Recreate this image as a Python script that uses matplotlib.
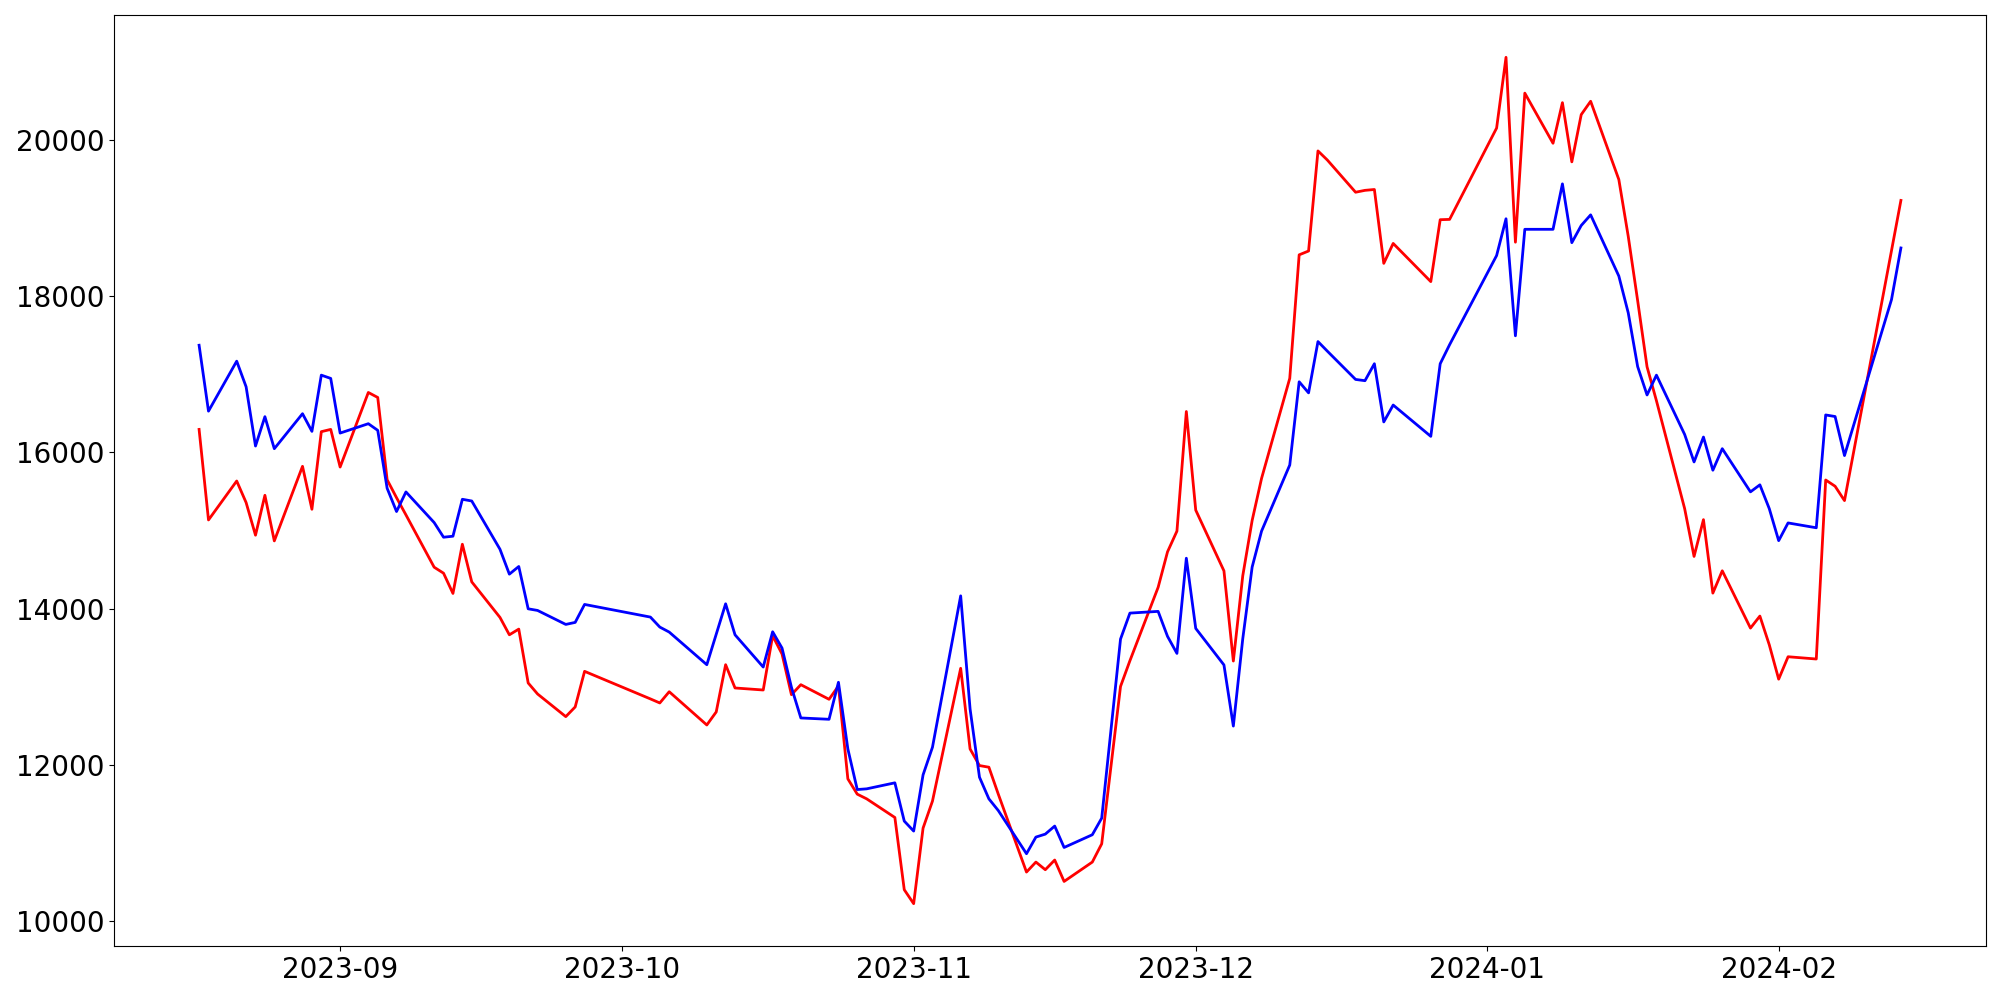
import matplotlib
matplotlib.use("Agg")
import matplotlib.pyplot as plt
import pandas as pd

# trading days shown on the chart (holes where the line has no vertex)
dates = [
    "2023-08-17", "2023-08-18", "2023-08-21", "2023-08-22", "2023-08-23", "2023-08-24",
    "2023-08-25", "2023-08-28", "2023-08-29", "2023-08-30", "2023-08-31",
    "2023-09-01", "2023-09-04", "2023-09-05", "2023-09-06", "2023-09-07", "2023-09-08",
    "2023-09-11", "2023-09-12", "2023-09-13", "2023-09-14", "2023-09-15", "2023-09-18",
    "2023-09-19", "2023-09-20", "2023-09-21", "2023-09-22", "2023-09-25", "2023-09-26",
    "2023-09-27",
    "2023-10-04", "2023-10-05", "2023-10-06", "2023-10-10", "2023-10-11", "2023-10-12",
    "2023-10-13", "2023-10-16", "2023-10-17", "2023-10-18", "2023-10-19", "2023-10-20",
    "2023-10-23", "2023-10-24", "2023-10-25", "2023-10-26", "2023-10-27", "2023-10-30",
    "2023-10-31",
    "2023-11-01", "2023-11-02", "2023-11-03", "2023-11-06", "2023-11-07", "2023-11-08",
    "2023-11-09", "2023-11-10", "2023-11-13", "2023-11-14", "2023-11-15", "2023-11-16",
    "2023-11-17", "2023-11-20", "2023-11-21", "2023-11-23", "2023-11-24", "2023-11-27",
    "2023-11-28", "2023-11-29", "2023-11-30",
    "2023-12-01", "2023-12-04", "2023-12-05", "2023-12-06", "2023-12-07", "2023-12-08",
    "2023-12-11", "2023-12-12", "2023-12-13", "2023-12-14", "2023-12-15", "2023-12-18",
    "2023-12-19", "2023-12-20", "2023-12-21", "2023-12-22", "2023-12-26", "2023-12-27",
    "2023-12-28",
    "2024-01-02", "2024-01-03", "2024-01-04", "2024-01-05", "2024-01-08", "2024-01-09",
    "2024-01-10", "2024-01-11", "2024-01-12", "2024-01-15", "2024-01-16", "2024-01-17",
    "2024-01-18", "2024-01-19", "2024-01-22", "2024-01-23", "2024-01-24", "2024-01-25",
    "2024-01-26", "2024-01-29", "2024-01-30", "2024-01-31",
    "2024-02-01", "2024-02-02", "2024-02-05", "2024-02-06", "2024-02-07", "2024-02-08",
    "2024-02-13", "2024-02-14",
]

red_values = [
    16295, 15135, 15634, 15358, 14940, 15451, 14867, 15822, 15272, 16266, 16295,
    15813, 16768, 16704, 15650, 15420, 15200, 14530, 14453, 14194, 14824, 14342, 13887,
    13664, 13737, 13047, 12906, 12616, 12740, 13196,
    12843, 12791, 12935, 12509, 12676, 13281, 12983, 12957, 13652, 13418, 12897, 13025,
    12838, 13008, 11819, 11623, 11563, 11324, 10399,
    10220, 11188, 11534, 13235, 12202, 11989, 11968, 11623, 10625, 10753, 10655, 10779,
    10505, 10753, 10987, 13002, 13332, 14272, 14727, 14992, 16524,
    15261, 14483, 13328, 14419, 15129, 15667, 16949, 18531, 18580, 19862, 19745, 19333,
    19357, 19368, 18422, 18677, 18188, 18981, 18985,
    20155, 21061, 18693, 20602, 19960, 20480, 19722, 20327, 20498, 19495, 18768, 17945,
    17097, 16662, 15280, 14668, 15139, 14198, 14484, 13750, 13904, 13536,
    13096, 13383, 13354, 15647, 15567, 15383, 18585, 19228,
]

blue_values = [
    17373, 16529, 17169, 16841, 16082, 16458, 16048, 16496, 16270, 16990, 16948,
    16248, 16368, 16283, 15541, 15243, 15494, 15102, 14914, 14927, 15400, 15378, 14760,
    14441, 14539, 13997, 13976, 13797, 13823, 14053,
    13891, 13763, 13699, 13281, 13671, 14061, 13664, 13251, 13703, 13494, 12992, 12599,
    12582, 13056, 12202, 11682, 11691, 11768, 11278,
    11150, 11870, 12224, 14163, 12714, 11840, 11563, 11413, 10860, 11073, 11111, 11214,
    10940, 11103, 11316, 13609, 13942, 13964, 13644, 13426, 14645,
    13746, 13278, 12495, 13611, 14532, 14992, 15839, 16905, 16763, 17420, 17297, 16935,
    16919, 17136, 16391, 16607, 16206, 17136, 17380,
    18522, 18993, 17494, 18858, 18858, 19440, 18687, 18907, 19043, 18259, 17788, 17100,
    16736, 16990, 16230, 15878, 16197, 15772, 16048, 15495, 15585, 15280,
    14870, 15097, 15035, 16480, 16460, 15960, 17958, 18619,
]

x = pd.to_datetime(dates)

fig, ax = plt.subplots(figsize=(20, 10), dpi=100)
ax.plot(x, red_values, color="red", linewidth=2)
ax.plot(x, blue_values, color="blue", linewidth=2)

ax.tick_params(axis="both", labelsize=20)
fig.subplots_adjust(left=0.057, right=0.993, bottom=0.054, top=0.985)

fig.savefig("out.png", dpi=100)
